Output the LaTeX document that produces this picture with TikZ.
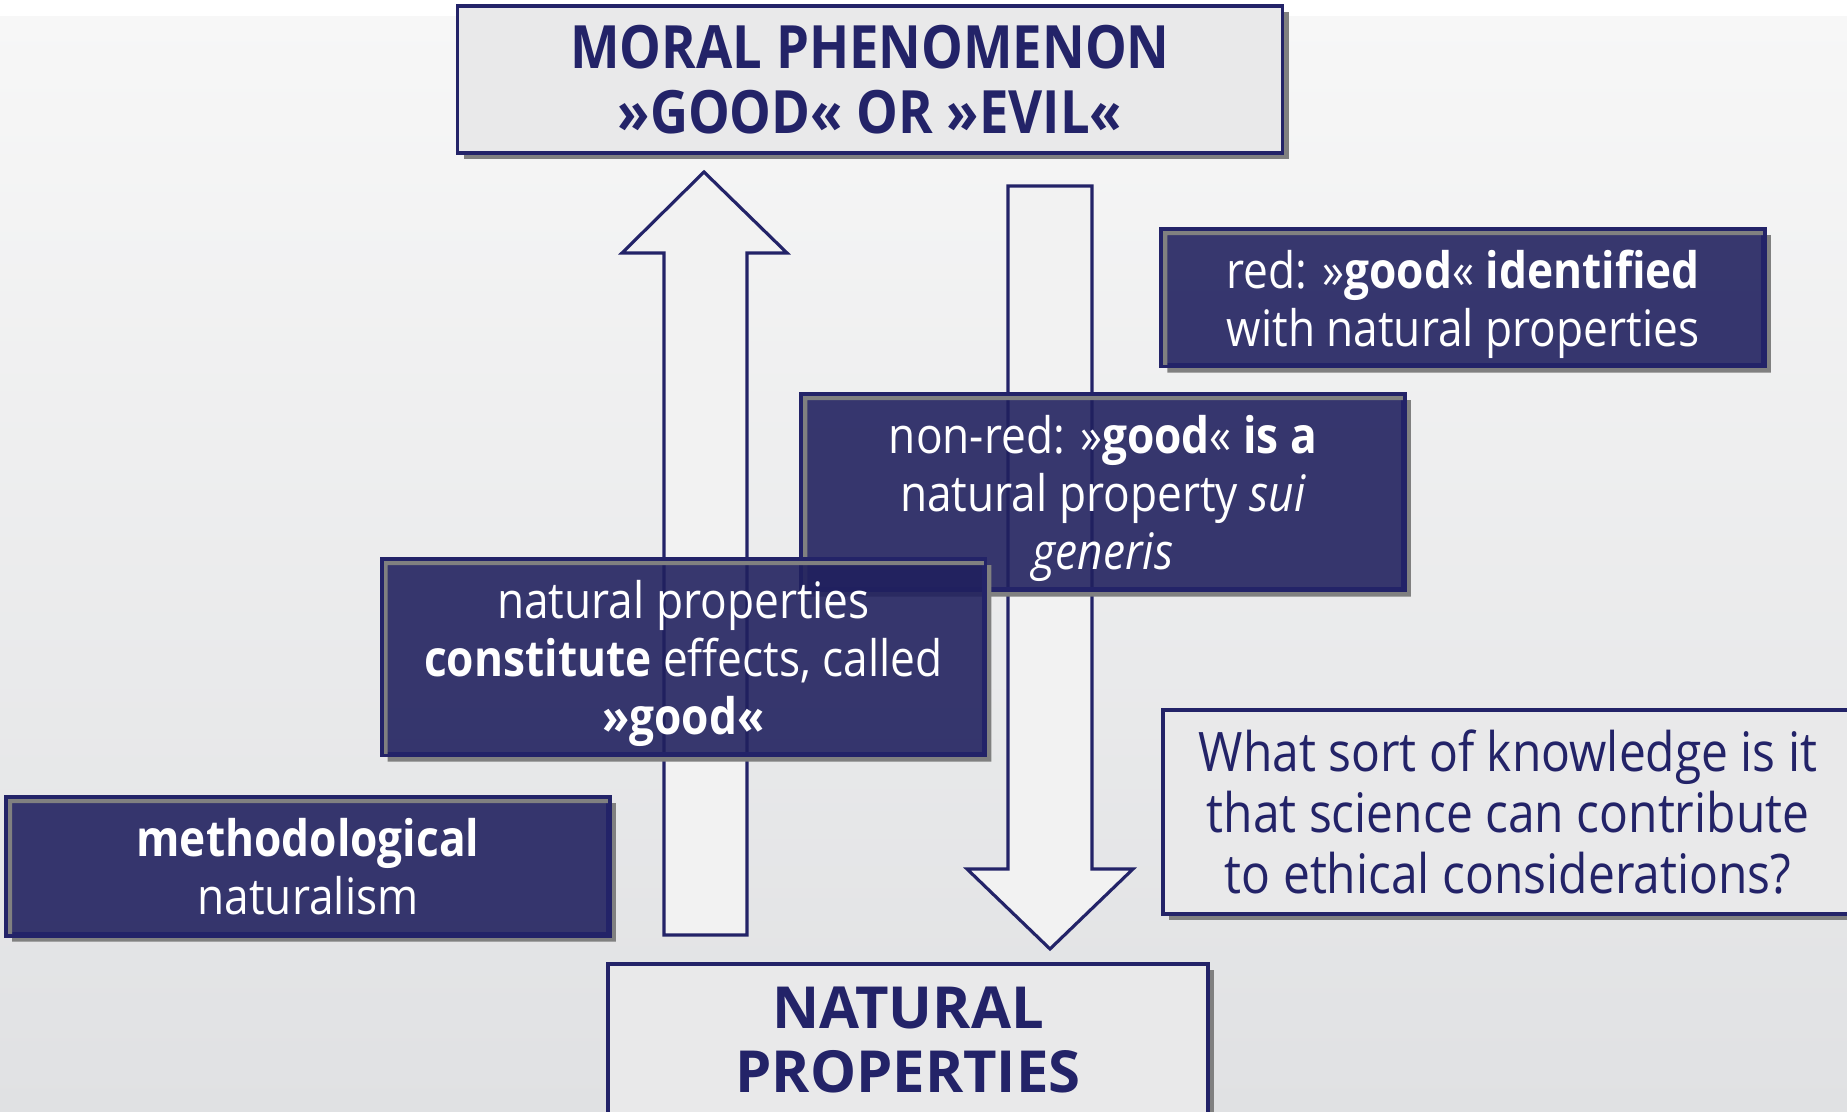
\documentclass[tikz,border=0pt]{standalone}
\usepackage{fontspec}
\setmainfont[FakeStretch=0.88]{Open Sans}
\newfontfamily\widesans{Open Sans}
\usetikzlibrary{shadows}
\definecolor{navy}{RGB}{35,35,104}
\definecolor{darkfill}{RGB}{32,32,94}
\definecolor{lightfill}{RGB}{233,233,234}
\definecolor{arrowfill}{RGB}{242,242,242}
\definecolor{shadowgray}{RGB}{128,128,128}
\definecolor{bgtop}{RGB}{247,247,247}
\definecolor{bgbottom}{RGB}{224,225,227}
\newcommand\cutshadow[1]{%
	\fill[shadowgray, even odd rule] ([shift={(0.06,-0.06)}]#1.south west) rectangle ([shift={(0.06,-0.06)}]#1.north east) (#1.south west) rectangle (#1.north east);
	\draw[navy, line width=1pt] (#1.south west) rectangle (#1.north east);}
\begin{document}
\begin{tikzpicture}[
		lightbox/.style={draw=navy, line width=1pt, fill=lightfill, text=navy, align=center, inner sep=0pt, drop shadow={shadow xshift=0.06cm, shadow yshift=-0.06cm, fill=shadowgray, opacity=1}},
		darkbox/.style={draw=navy, line width=1pt, fill=darkfill, fill opacity=0.89, text opacity=1, text=white, align=center, inner sep=0pt, minimum width=6cm},
		blockarrow/.style={draw=navy, line width=0.9pt, fill=arrowfill},
		heading/.style={font=\fontsize{17}{18.6}\selectfont\bfseries},
		body/.style={font=\fontsize{14.3}{16.6}\selectfont},
		question/.style={font=\fontsize{15.5}{17.4}\selectfont}]
		\fill[white] (0,0) rectangle (18.47,11.12);
		\shade[top color=bgtop, bottom color=bgbottom] (0,0) rectangle (18.47,10.95);
		\useasboundingbox (0,0) rectangle (18.47,11.12);
		\draw[blockarrow] (6.64,1.77) -- (6.64,8.59) -- (6.22,8.59) -- (7.04,9.40) -- (7.87,8.59) -- (7.47,8.59) -- (7.47,1.77) -- cycle;
		\draw[blockarrow] (10.08,9.26) -- (10.08,2.43) -- (9.67,2.43) -- (10.50,1.63) -- (11.33,2.43) -- (10.92,2.43) -- (10.92,9.26) -- cycle;
		\node[lightbox, heading, text depth=-2pt, minimum width=8.25cm, minimum height=1.47cm] (moral) at (8.70,10.325) {MORAL PHENOMENON\\»GOOD« OR »EVIL«};
		\node[darkbox, body, text depth=-0.6pt, minimum height=1.34cm] (red) at (14.63,8.14) {red: »\textbf{good}« \textbf{identified}\\with natural properties};
		\cutshadow{red}
		\node[darkbox, body, text depth=-0.6pt, minimum height=1.93cm] (nonred) at (11.03,6.195) {non-red: »\textbf{good}« \textbf{is a}\\natural property \textit{sui}\\\textit{generis}};
		\cutshadow{nonred}
		\node[darkbox, body, text depth=-0.6pt, minimum height=1.93cm] (constitute) at (6.835,4.545) {natural properties\\\textbf{constitute} effects, called\\\textbf{»good«}};
		\cutshadow{constitute}
		\node[darkbox, body, minimum height=1.35cm] (method) at (3.08,2.455) {\textbf{methodological}\\naturalism};
		\cutshadow{method}
		\node[lightbox, question, text depth=-1.8pt, minimum width=6.9cm, minimum height=2.04cm] (ask) at (15.08,3.00) {What sort of knowledge is it\\that science can contribute\\to ethical considerations?};
		\node[lightbox, heading, font=\widesans\fontsize{16.5}{18.2}\selectfont\bfseries, minimum width=6cm, minimum height=1.52cm] (natural) at (9.08,0.72) {NATURAL\\PROPERTIES};
	\end{tikzpicture}
\end{document}
